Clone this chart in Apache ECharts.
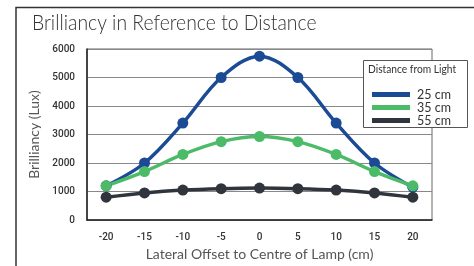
<!DOCTYPE html>
<html>
<head>
<meta charset="utf-8">
<script src="https://cdn.jsdelivr.net/npm/echarts@6/dist/echarts.min.js"></script>
<style>
  html, body { margin: 0; padding: 0; background: #fff; }
  #chart { width: 474px; height: 266px; }
</style>
</head>
<body>
<div id="chart"></div>
<script>
    // offsets from lamp centre (cm)
    var offsets = ['-20', '-15', '-10', '-5', '0', '5', '10', '15', '20'];
    var lux25 = [1200, 2000, 3400, 5000, 5750, 5000, 3400, 2000, 1150];
    var lux35 = [1200, 1700, 2300, 2750, 2930, 2750, 2300, 1700, 1200];
    var lux55 = [800, 950, 1050, 1100, 1120, 1100, 1050, 950, 800];
    var seriesNames = ['25 cm', '35 cm', '55 cm'];
    var seriesColors = ['#1b4b95', '#4cbb68', '#30353d'];

    var chart = echarts.init(document.getElementById('chart'));

    function makeSeries(name, data, color) {
        return {
            name: name, type: 'line', data: data, smooth: 0.35,
            symbol: 'circle', symbolSize: 11,
            lineStyle: { width: 3.5, color: color },
            itemStyle: { color: color }
        };
    }

    var option = {
        animation: false,
        textStyle: { fontFamily: 'Roboto' },
        grid: {
            left: 87, right: 42, top: 49, bottom: 42,
            show: true, borderColor: '#666', borderWidth: 1
        },
        graphic: [
            {
                type: 'polyline',
                shape: { points: [[16, 266], [16, 7.5], [474, 7.5]] },
                style: { stroke: '#333', lineWidth: 1.5, fill: null }
            },
            {
                type: 'text', x: 32, y: 12, scaleX: 0.88,
                style: { text: 'Brilliancy in Reference to Distance', fontSize: 22, fontWeight: 300,
                    fontFamily: 'Lato', fill: '#333' }
            },
            {
                type: 'rect', z: 10,
                shape: { x: 363.5, y: 60.5, width: 104, height: 67 },
                style: { fill: '#fff', stroke: '#555', lineWidth: 1 }
            },
            {
                type: 'text', x: 368, y: 64, z: 11, scaleX: 0.93,
                style: { text: 'Distance from Light', fontSize: 11, fontFamily: 'Lato', fill: '#333' }
            }
        ],
        legend: {
            data: seriesNames, orient: 'vertical', left: 367, top: 83, z: 12,
            icon: 'rect', itemWidth: 38, itemHeight: 5, itemGap: 0,
            textStyle: { fontSize: 12.5, lineHeight: 13, fontFamily: 'Lato', color: '#333', padding: [0, 0, 0, 2] }
        },
        xAxis: {
            type: 'category', data: offsets, boundaryGap: true,
            name: 'Lateral Offset to Centre of Lamp (cm)', nameLocation: 'middle', nameGap: 27,
            nameTextStyle: { fontSize: 14, fontFamily: 'Lato', color: '#555' },
            axisLine: { lineStyle: { color: '#222', width: 1.5 } },
            axisTick: { show: false },
            axisLabel: { fontSize: 10, color: '#333', fontWeight: 500, margin: 12 }
        },
        yAxis: {
            type: 'value', min: 0, max: 6000, interval: 1000,
            name: 'Brilliancy (Lux)', nameLocation: 'middle', nameGap: 46,
            nameTextStyle: { fontSize: 14, fontFamily: 'Lato', color: '#555' },
            axisLine: { show: true, lineStyle: { color: '#222', width: 1.5 } },
            axisTick: { show: false },
            axisLabel: { fontSize: 10, color: '#333', fontWeight: 500, margin: 12,
                formatter: function (v) { return String(v); } },
            splitLine: { lineStyle: { color: '#888', width: 1 } }
        },
        series: [
            makeSeries(seriesNames[0], lux25, seriesColors[0]),
            makeSeries(seriesNames[1], lux35, seriesColors[1]),
            makeSeries(seriesNames[2], lux55, seriesColors[2])
        ]
    };

    chart.setOption(option);
</script>
</body>
</html>
